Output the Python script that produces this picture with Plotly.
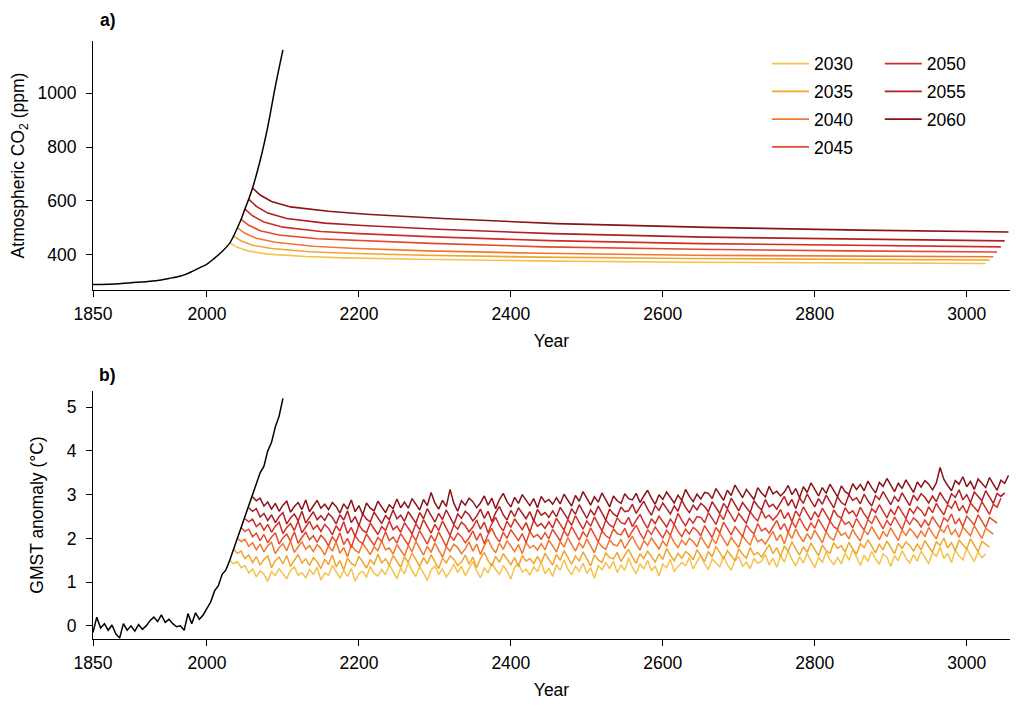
import plotly.graph_objects as go
from plotly.subplots import make_subplots

# scenario start years (year emissions stop) and colours
scenario_years = [2030, 2035, 2040, 2045, 2050, 2055, 2060]
scenario_colors = ['#F5C24C', '#EFA52E', '#F2762E', '#E5482C',
                   '#D02F27', '#B01E24', '#8A1319']

# --- panel a: atmospheric CO2 (ppm) ---
co2_hist_years = [1850, 1870, 1900, 1920, 1940, 1950, 1960, 1970, 1980, 1990,
                  2000, 2010, 2020, 2030, 2035, 2040, 2045, 2050, 2055, 2060,
                  2070, 2080, 2090, 2100]
co2_hist = [290, 291, 297, 301, 307, 313, 318, 326, 338, 352,
            366, 388, 413, 444, 470, 500, 532, 570, 607, 648,
            750, 875, 1025, 1160]

# years after the scenario start
co2_offsets = [0, 10, 25, 50, 100, 150, 250, 400, 600, 800, 995]
co2_2030 = [444, 428, 414, 403, 394, 389, 384, 378, 373, 370, 368]
co2_2035 = [470, 452, 436, 424, 412, 406, 399, 392, 387, 383, 381]
co2_2040 = [500, 480, 462, 447, 432, 425, 415, 406, 399, 395, 393]
co2_2045 = [532, 510, 490, 474, 460, 454, 443, 430, 421, 415, 411]
co2_2050 = [570, 545, 522, 503, 487, 479, 467, 453, 442, 435, 430]
co2_2055 = [607, 580, 555, 535, 518, 509, 495, 479, 466, 458, 452]
co2_2060 = [648, 622, 598, 578, 562, 551, 535, 516, 502, 492, 485]

# --- panel b: GMST anomaly (degC), 5-year steps ---
gmst_step = 5
gmst_hist_start = 1850
gmst_hist = [-0.15, 0.20, -0.05, 0.05, -0.10, 0.02, -0.18, -0.28, 0.05, -0.10,
             0.00, -0.12, 0.03, -0.08, 0.00, 0.12, 0.20, 0.10, 0.25, 0.08,
             0.15, 0.05, -0.02, 0.00, -0.10, 0.28, 0.05, 0.30, 0.15, 0.25,
             0.40, 0.55, 0.80, 0.92, 1.18, 1.28, 1.50, 1.75, 2.00, 2.25,
             2.45, 2.70, 2.95, 3.20, 3.50, 3.65, 4.00, 4.20, 4.55, 4.80, 5.20]

gmst_2030 = [
    1.50, 1.42, 1.47, 1.33, 1.38, 1.21, 1.30, 1.12, 1.26, 1.18, 1.02, 1.24, 1.15, 1.31, 1.19, 1.08, 1.27, 1.35, 1.16, 1.22,
    1.10, 1.29, 1.18, 1.34, 1.05, 1.21, 1.16, 1.38, 1.24, 1.09, 1.27, 1.13, 1.31, 1.02, 1.19, 1.25, 1.11, 1.36, 1.20, 1.14,
    1.29, 1.17, 1.40, 1.23, 1.08, 1.32, 1.19, 1.45, 1.26, 1.13, 1.35, 1.21, 1.04, 1.28, 1.37, 1.18, 1.30, 1.12, 1.24, 1.41,
    1.22, 1.36, 1.15, 1.31, 1.47, 1.26, 1.10, 1.33, 1.21, 1.44, 1.29, 1.18, 1.38, 1.25, 1.07, 1.34, 1.42, 1.23, 1.30, 1.16,
    1.35, 1.24, 1.46, 1.19, 1.32, 1.13, 1.40, 1.27, 1.51, 1.30, 1.17, 1.36, 1.25, 1.43, 1.20, 1.33, 1.09, 1.38, 1.28, 1.45,
    1.31, 1.48, 1.22, 1.39, 1.27, 1.55, 1.34, 1.19, 1.42, 1.30, 1.50, 1.26, 1.37, 1.14, 1.41, 1.33, 1.52, 1.24, 1.36, 1.45,
    1.38, 1.56, 1.30, 1.47, 1.62, 1.41, 1.29, 1.53, 1.44, 1.35, 1.59, 1.40, 1.27, 1.49, 1.58, 1.36, 1.46, 1.31, 1.54, 1.43,
    1.48, 1.63, 1.39, 1.55, 1.34, 1.60, 1.46, 1.71, 1.52, 1.37, 1.58, 1.44, 1.66, 1.49, 1.33, 1.57, 1.45, 1.69, 1.51, 1.40,
    1.56, 1.42, 1.67, 1.50, 1.74, 1.58, 1.38, 1.62, 1.47, 1.70, 1.53, 1.41, 1.65, 1.57, 1.36, 1.61, 1.49, 1.72, 1.55, 1.44,
    1.63, 1.48, 1.71, 1.57, 1.42, 1.68, 1.59, 1.80, 1.54, 1.66, 1.45, 1.73, 1.60, 1.51, 1.77, 1.62, 1.47, 1.69, 1.56, 1.64,
]
gmst_2035 = [
    1.75, 1.66, 1.71, 1.54, 1.62, 1.45, 1.58, 1.39, 1.52, 1.60, 1.33, 1.49, 1.57, 1.42, 1.61, 1.36, 1.50, 1.63, 1.44, 1.53,
    1.38, 1.56, 1.47, 1.31, 1.52, 1.40, 1.62, 1.35, 1.49, 1.28, 1.55, 1.43, 1.37, 1.59, 1.46, 1.32, 1.51, 1.41, 1.64, 1.44,
    1.53, 1.39, 1.61, 1.47, 1.34, 1.58, 1.45, 1.67, 1.50, 1.36, 1.56, 1.42, 1.63, 1.48, 1.31, 1.55, 1.44, 1.60, 1.52, 1.38,
    1.46, 1.62, 1.41, 1.57, 1.33, 1.54, 1.68, 1.49, 1.37, 1.59, 1.45, 1.65, 1.51, 1.40, 1.56, 1.35, 1.61, 1.48, 1.54, 1.43,
    1.58, 1.44, 1.66, 1.52, 1.39, 1.63, 1.50, 1.72, 1.55, 1.41, 1.60, 1.48, 1.69, 1.54, 1.37, 1.62, 1.51, 1.45, 1.67, 1.56,
    1.53, 1.68, 1.47, 1.62, 1.75, 1.57, 1.43, 1.65, 1.54, 1.71, 1.59, 1.46, 1.64, 1.52, 1.77, 1.61, 1.49, 1.66, 1.55, 1.70,
    1.63, 1.51, 1.74, 1.60, 1.47, 1.70, 1.58, 1.82, 1.66, 1.53, 1.72, 1.61, 1.49, 1.76, 1.64, 1.55, 1.79, 1.62, 1.68, 1.57,
    1.71, 1.86, 1.65, 1.79, 1.58, 1.83, 1.70, 1.92, 1.76, 1.62, 1.81, 1.68, 1.89, 1.74, 1.60, 1.85, 1.72, 1.66, 1.90, 1.77,
    1.83, 1.69, 1.91, 1.76, 1.64, 1.88, 1.79, 1.97, 1.81, 1.67, 1.86, 1.74, 1.94, 1.80, 1.65, 1.89, 1.77, 1.92, 1.84, 1.71,
    1.87, 1.74, 1.95, 1.81, 1.69, 1.92, 1.84, 2.01, 1.78, 1.90, 1.72, 1.96, 1.85, 1.76, 1.99, 1.83, 1.70, 1.93, 1.86, 1.80,
]
gmst_2040 = [
    2.00, 1.93, 1.98, 1.82, 1.90, 1.74, 1.87, 1.69, 1.83, 1.91, 1.65, 1.79, 1.88, 1.72, 1.94, 1.68, 1.81, 1.92, 1.75, 1.84,
    1.70, 1.86, 1.77, 1.62, 1.83, 1.71, 1.92, 1.66, 1.79, 1.58, 1.85, 1.73, 1.67, 1.89, 1.76, 1.63, 1.81, 1.72, 1.94, 1.74,
    1.78, 1.64, 1.86, 1.73, 1.60, 1.84, 1.70, 1.93, 1.76, 1.62, 1.82, 1.68, 1.90, 1.75, 1.57, 1.81, 1.71, 1.87, 1.79, 1.65,
    1.76, 1.92, 1.71, 1.87, 1.63, 1.84, 1.98, 1.79, 1.67, 1.89, 1.75, 1.95, 1.81, 1.70, 1.86, 1.65, 1.91, 1.78, 1.84, 1.73,
    1.88, 1.74, 1.96, 1.82, 1.69, 1.93, 1.80, 2.02, 1.85, 1.71, 1.90, 1.78, 1.99, 1.84, 1.67, 1.92, 1.81, 1.75, 1.97, 1.86,
    1.83, 1.98, 1.77, 1.92, 2.05, 1.87, 1.73, 1.95, 1.84, 2.01, 1.89, 1.76, 1.94, 1.82, 2.07, 1.91, 1.79, 1.96, 1.85, 2.00,
    1.93, 1.81, 2.04, 1.90, 1.77, 2.00, 1.88, 2.12, 1.96, 1.83, 2.02, 1.91, 1.79, 2.06, 1.94, 1.85, 2.09, 1.92, 1.98, 1.87,
    2.01, 2.16, 1.95, 2.09, 1.88, 2.13, 2.00, 2.22, 2.06, 1.92, 2.11, 1.98, 2.19, 2.04, 1.90, 2.15, 2.02, 1.96, 2.20, 2.07,
    2.13, 1.99, 2.21, 2.06, 1.94, 2.18, 2.09, 2.27, 2.11, 1.97, 2.16, 2.04, 2.24, 2.10, 1.95, 2.19, 2.07, 2.22, 2.14, 2.01,
    2.17, 2.04, 2.25, 2.11, 1.99, 2.22, 2.14, 2.31, 2.08, 2.20, 2.02, 2.26, 2.15, 2.06, 2.29, 2.13, 2.00, 2.23, 2.16, 2.10,
]
gmst_2045 = [
    2.25, 2.16, 2.21, 2.04, 2.12, 1.95, 2.09, 1.90, 2.03, 2.13, 1.87, 2.01, 2.10, 1.94, 2.15, 1.89, 2.02, 2.14, 1.97, 2.06,
    1.91, 2.07, 1.98, 1.83, 2.04, 1.92, 2.13, 1.86, 2.00, 1.79, 2.06, 1.94, 1.88, 2.10, 1.97, 1.84, 2.02, 1.93, 2.15, 1.95,
    2.03, 1.89, 2.11, 1.98, 1.85, 2.09, 1.95, 2.18, 2.01, 1.87, 2.07, 1.93, 2.15, 2.00, 1.82, 2.06, 1.96, 2.12, 2.04, 1.90,
    2.01, 2.17, 1.96, 2.12, 1.88, 2.09, 2.23, 2.04, 1.92, 2.14, 2.00, 2.20, 2.06, 1.95, 2.11, 1.90, 2.16, 2.03, 2.09, 1.98,
    2.13, 1.99, 2.21, 2.07, 1.94, 2.18, 2.05, 2.27, 2.10, 1.96, 2.15, 2.03, 2.24, 2.09, 1.92, 2.17, 2.06, 2.00, 2.22, 2.11,
    2.08, 2.23, 2.02, 2.17, 2.30, 2.12, 1.98, 2.20, 2.09, 2.26, 2.14, 2.01, 2.19, 2.07, 2.32, 2.16, 2.04, 2.21, 2.10, 2.25,
    2.18, 2.06, 2.29, 2.15, 2.02, 2.25, 2.13, 2.37, 2.21, 2.08, 2.27, 2.16, 2.04, 2.31, 2.19, 2.10, 2.34, 2.17, 2.23, 2.12,
    2.26, 2.41, 2.20, 2.34, 2.13, 2.38, 2.25, 2.47, 2.31, 2.17, 2.36, 2.23, 2.44, 2.29, 2.15, 2.40, 2.27, 2.21, 2.45, 2.32,
    2.38, 2.24, 2.46, 2.31, 2.19, 2.43, 2.34, 2.52, 2.36, 2.22, 2.41, 2.29, 2.49, 2.35, 2.20, 2.44, 2.32, 2.47, 2.39, 2.26,
    2.42, 2.29, 2.50, 2.36, 2.24, 2.47, 2.39, 2.56, 2.33, 2.45, 2.27, 2.51, 2.40, 2.31, 2.54, 2.38, 2.25, 2.48, 2.41, 2.35,
]
gmst_2050 = [
    2.45, 2.38, 2.44, 2.27, 2.35, 2.19, 2.32, 2.14, 2.28, 2.37, 2.11, 2.25, 2.34, 2.18, 2.40, 2.13, 2.26, 2.39, 2.21, 2.30,
    2.16, 2.32, 2.23, 2.08, 2.29, 2.17, 2.38, 2.11, 2.25, 2.04, 2.31, 2.19, 2.13, 2.35, 2.22, 2.09, 2.27, 2.18, 2.40, 2.20,
    2.28, 2.14, 2.36, 2.23, 2.10, 2.34, 2.20, 2.43, 2.26, 2.12, 2.32, 2.18, 2.40, 2.25, 2.07, 2.31, 2.21, 2.37, 2.29, 2.15,
    2.26, 2.42, 2.21, 2.37, 2.13, 2.34, 2.48, 2.29, 2.17, 2.39, 2.25, 2.45, 2.31, 2.20, 2.36, 2.15, 2.41, 2.28, 2.34, 2.23,
    2.38, 2.24, 2.46, 2.32, 2.19, 2.43, 2.30, 2.52, 2.35, 2.21, 2.40, 2.28, 2.49, 2.34, 2.17, 2.42, 2.31, 2.25, 2.47, 2.36,
    2.33, 2.48, 2.27, 2.42, 2.55, 2.37, 2.23, 2.45, 2.34, 2.51, 2.39, 2.26, 2.44, 2.32, 2.57, 2.41, 2.29, 2.46, 2.35, 2.50,
    2.48, 2.36, 2.59, 2.45, 2.32, 2.55, 2.43, 2.67, 2.51, 2.38, 2.57, 2.46, 2.34, 2.61, 2.49, 2.40, 2.64, 2.47, 2.53, 2.42,
    2.51, 2.66, 2.45, 2.59, 2.38, 2.63, 2.50, 2.72, 2.56, 2.42, 2.61, 2.48, 2.69, 2.54, 2.40, 2.65, 2.52, 2.46, 2.70, 2.57,
    2.63, 2.49, 2.71, 2.56, 2.44, 2.68, 2.59, 2.77, 2.61, 2.47, 2.66, 2.54, 2.74, 2.60, 2.45, 2.69, 2.57, 2.72, 2.64, 2.51,
    2.72, 2.59, 2.80, 2.66, 2.54, 2.77, 2.69, 2.86, 2.63, 2.75, 2.57, 2.81, 2.70, 2.61, 2.84, 2.68, 2.55, 2.78, 2.71, 2.92,
]
gmst_2055 = [
    2.70, 2.62, 2.68, 2.49, 2.57, 2.41, 2.54, 2.36, 2.50, 2.59, 2.33, 2.47, 2.56, 2.40, 2.62, 2.35, 2.48, 2.61, 2.43, 2.52,
    2.41, 2.57, 2.48, 2.33, 2.54, 2.42, 2.63, 2.36, 2.50, 2.29, 2.56, 2.44, 2.38, 2.60, 2.47, 2.34, 2.52, 2.43, 2.65, 2.45,
    2.53, 2.39, 2.61, 2.48, 2.35, 2.59, 2.45, 2.68, 2.51, 2.37, 2.57, 2.43, 2.65, 2.50, 2.32, 2.56, 2.46, 2.62, 2.54, 2.40,
    2.51, 2.67, 2.46, 2.62, 2.38, 2.59, 2.73, 2.54, 2.42, 2.64, 2.50, 2.70, 2.56, 2.45, 2.61, 2.40, 2.66, 2.53, 2.59, 2.48,
    2.63, 2.49, 2.71, 2.57, 2.44, 2.68, 2.55, 2.77, 2.60, 2.46, 2.65, 2.53, 2.74, 2.59, 2.42, 2.67, 2.56, 2.50, 2.72, 2.61,
    2.63, 2.78, 2.57, 2.72, 2.85, 2.67, 2.53, 2.75, 2.64, 2.81, 2.69, 2.56, 2.74, 2.62, 2.87, 2.71, 2.59, 2.76, 2.65, 2.80,
    2.73, 2.61, 2.84, 2.70, 2.57, 2.80, 2.68, 2.92, 2.76, 2.63, 2.82, 2.71, 2.59, 2.86, 2.74, 2.65, 2.89, 2.72, 2.78, 2.67,
    2.81, 2.96, 2.75, 2.89, 2.68, 2.93, 2.80, 3.02, 2.86, 2.72, 2.91, 2.78, 2.99, 2.84, 2.70, 2.95, 2.82, 2.76, 3.00, 2.87,
    2.93, 2.79, 3.01, 2.86, 2.74, 2.98, 2.89, 3.07, 2.91, 2.77, 2.96, 2.84, 3.04, 2.90, 2.75, 2.99, 2.87, 3.02, 2.94, 2.81,
    2.97, 2.84, 3.05, 2.91, 2.79, 3.02, 2.94, 3.11, 2.88, 3.00, 2.82, 3.06, 2.95, 2.86, 3.09, 2.93, 2.80, 3.03, 2.96, 3.04,
]
gmst_2060 = [
    2.95, 2.86, 2.92, 2.74, 2.83, 2.67, 2.80, 2.62, 2.76, 2.85, 2.60, 2.73, 2.82, 2.66, 2.88, 2.61, 2.74, 2.87, 2.69, 2.78,
    2.66, 2.82, 2.73, 2.58, 2.79, 2.67, 2.88, 2.61, 2.75, 2.54, 2.81, 2.69, 2.63, 2.85, 2.72, 2.59, 2.77, 2.68, 2.90, 2.70,
    2.83, 2.69, 2.91, 2.78, 2.65, 2.89, 2.75, 3.05, 2.81, 2.67, 2.87, 2.73, 3.12, 2.80, 2.62, 2.86, 2.76, 2.92, 2.84, 2.70,
    2.81, 2.97, 2.76, 2.92, 2.68, 2.89, 3.03, 2.84, 2.72, 2.94, 2.80, 3.00, 2.86, 2.75, 2.91, 2.70, 2.96, 2.83, 2.89, 2.78,
    2.93, 2.79, 3.01, 2.87, 2.74, 2.98, 2.85, 3.07, 2.90, 2.76, 2.95, 2.83, 3.04, 2.89, 2.72, 2.97, 2.86, 2.80, 3.02, 2.91,
    2.88, 3.03, 2.82, 2.97, 3.10, 2.92, 2.78, 3.00, 2.89, 3.06, 2.94, 2.81, 2.99, 2.87, 3.12, 2.96, 2.84, 3.01, 2.90, 3.05,
    3.03, 2.91, 3.14, 3.00, 2.87, 3.10, 2.98, 3.22, 3.06, 2.93, 3.12, 3.01, 2.89, 3.16, 3.04, 2.95, 3.19, 3.02, 3.08, 2.97,
    3.06, 3.21, 3.00, 3.14, 2.93, 3.18, 3.05, 3.27, 3.11, 2.97, 3.16, 3.03, 3.24, 3.09, 2.95, 3.20, 3.07, 3.01, 3.25, 3.12,
    3.23, 3.09, 3.31, 3.16, 3.04, 3.28, 3.19, 3.37, 3.21, 3.07, 3.26, 3.14, 3.34, 3.20, 3.05, 3.29, 3.17, 3.32, 3.24, 3.11,
    3.27, 3.62, 3.35, 3.21, 3.09, 3.32, 3.24, 3.41, 3.18, 3.30, 3.12, 3.36, 3.25, 3.16, 3.39, 3.23, 3.10, 3.33, 3.26, 3.44,
]

co2_series = [co2_2030, co2_2035, co2_2040, co2_2045, co2_2050, co2_2055, co2_2060]
gmst_series = [gmst_2030, gmst_2035, gmst_2040, gmst_2045, gmst_2050, gmst_2055, gmst_2060]

FONT = "Liberation Sans, Arial, Helvetica, sans-serif"
FS = 17.5

fig = make_subplots(rows=2, cols=1)

for i, start in enumerate(scenario_years):
    col = scenario_colors[i]
    fig.add_trace(go.Scatter(
        x=[start + o for o in co2_offsets], y=co2_series[i],
        mode='lines', line=dict(color=col, width=1.6),
        name=str(start), legendgroup=str(start),
        legend='legend' if i < 4 else 'legend2',
    ), row=1, col=1)
    g = gmst_series[i]
    fig.add_trace(go.Scatter(
        x=[start + gmst_step * k for k in range(len(g))], y=g,
        mode='lines', line=dict(color=col, width=1.5),
        showlegend=False,
    ), row=2, col=1)

# historical + high-emission path on top
fig.add_trace(go.Scatter(x=co2_hist_years, y=co2_hist, mode='lines',
                         line=dict(color='black', width=1.5, shape='spline'),
                         showlegend=False), row=1, col=1)
fig.add_trace(go.Scatter(x=[gmst_hist_start + gmst_step * k for k in range(len(gmst_hist))],
                         y=gmst_hist, mode='lines',
                         line=dict(color='black', width=1.5),
                         showlegend=False), row=2, col=1)

axis_common = dict(showline=True, linecolor='black', linewidth=1,
                   ticks='outside', ticklen=6, tickcolor='black',
                   showgrid=False, zeroline=False, automargin=False,
                   tickfont=dict(family=FONT, size=FS, color='black'))

xticks = [1850, 2000, 2200, 2400, 2600, 2800, 3000]
for r in (1, 2):
    fig.update_xaxes(axis_common, range=[1850, 3057], tickvals=xticks,
                     title=dict(text='Year', font=dict(family=FONT, size=FS, color='black'),
                                standoff=11),
                     ticklabelstandoff=2, row=r, col=1)

fig.update_yaxes(axis_common, range=[270, 1193], tickvals=[400, 600, 800, 1000],
                 title=dict(text='Atmospheric CO<sub>2</sub> (ppm)',
                            font=dict(family=FONT, size=FS, color='black'), standoff=23),
                 ticklabelstandoff=6, row=1, col=1)
fig.update_yaxes(axis_common, range=[-0.3, 5.37], tickvals=[0, 1, 2, 3, 4, 5],
                 title=dict(text='GMST anomaly (°C)',
                            font=dict(family=FONT, size=FS, color='black'), standoff=18),
                 ticklabelstandoff=6, row=2, col=1)

legend_style = dict(xanchor='left', yanchor='top', bgcolor='rgba(0,0,0,0)',
                    itemwidth=37, tracegroupgap=2,
                    font=dict(family=FONT, size=FS, color='black'))

fig.update_layout(
    width=1024, height=720,
    # the page body adds 8px around the figure
    margin=dict(l=85, r=22, t=33, b=89),
    plot_bgcolor='white', paper_bgcolor='white',
    font=dict(family=FONT, size=FS, color='black'),
    xaxis=dict(domain=[0, 1]), yaxis=dict(domain=[0.5836, 1]),
    xaxis2=dict(domain=[0, 1]), yaxis2=dict(domain=[0, 0.4147]),
    legend=dict(legend_style, x=0.735, y=0.992),
    legend2=dict(legend_style, x=0.858, y=0.992),
    annotations=[
        dict(text='<b>a)</b>', xref='paper', yref='paper', x=0.016, y=1.035,
             xanchor='center', yanchor='middle', showarrow=False,
             font=dict(family=FONT, size=FS, color='black')),
        dict(text='<b>b)</b>', xref='paper', yref='paper', x=0.016, y=0.4415,
             xanchor='center', yanchor='middle', showarrow=False,
             font=dict(family=FONT, size=FS, color='black')),
    ],
)

fig.write_html("out.html")
